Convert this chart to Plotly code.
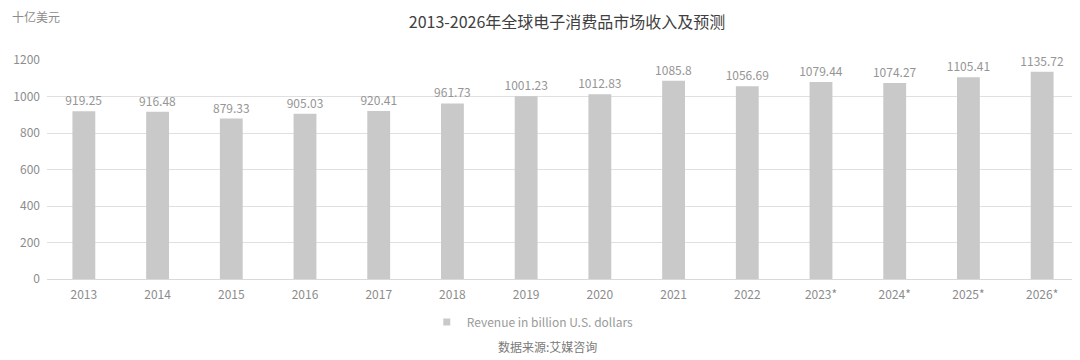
import plotly.graph_objects as go

years = ["2013", "2014", "2015", "2016", "2017", "2018", "2019", "2020",
         "2021", "2022", "2023*", "2024*", "2025*", "2026*"]
revenue = [919.25, 916.48, 879.33, 905.03, 920.41, 961.73, 1001.23, 1012.83,
           1085.8, 1056.69, 1079.44, 1074.27, 1105.41, 1135.72]
labels = ["919.25", "916.48", "879.33", "905.03", "920.41", "961.73", "1001.23",
          "1012.83", "1085.8", "1056.69", "1079.44", "1074.27", "1105.41", "1135.72"]
series_name = "Revenue in billion U.S. dollars"

FONT = "Noto Sans CJK SC, Noto Sans, sans-serif"
BAR = "#c9c9c9"

fig = go.Figure()
fig.add_trace(go.Bar(
    x=years, y=revenue, text=labels, textposition="outside", constraintext="none",
    textfont=dict(size=12, color="#959595", family=FONT),
    marker=dict(color=BAR, line=dict(width=0)),
    name=series_name, cliponaxis=False, showlegend=False,
))
# legend entry with a small square swatch, as in the reference
fig.add_trace(go.Scatter(
    x=[None], y=[None], mode="markers", name=series_name,
    marker=dict(symbol="square", size=7, color=BAR), showlegend=True,
))

# page body has an 8px margin, so the figure is 8px smaller on each axis
fig.update_layout(
    width=1072, height=352,
    margin=dict(l=39, r=1, t=52, b=81, autoexpand=False),
    paper_bgcolor="white", plot_bgcolor="white",
    font=dict(family=FONT, color="#8c8c8c", size=12),
    bargap=0.69,
    title=dict(text="2013-2026年全球电子消费品市场收入及预测", x=0.5215, xanchor="center",
               y=0.960, yanchor="middle",
               font=dict(size=16, color="#404040", family=FONT)),
    showlegend=True,
    legend=dict(orientation="h", x=0.368, xanchor="left", y=-0.196, yanchor="middle",
                font=dict(size=12, color="#9a9a9a", family=FONT),
                itemwidth=30, bgcolor="rgba(0,0,0,0)"),
    xaxis=dict(showgrid=False, showline=False, ticks="", automargin=False,
               tickfont=dict(size=12, color="#8c8c8c"), ticklabelstandoff=7),
    yaxis=dict(range=[0, 1200], dtick=200, showgrid=True, gridcolor="#e0e0e0", gridwidth=1,
               zeroline=True, zerolinecolor="#d9d9d9", zerolinewidth=1, automargin=False,
               ticks="", tickfont=dict(size=12, color="#8c8c8c"), ticklabelstandoff=6),
    annotations=[
        dict(text="十亿美元", x=-0.036, y=1.20, xref="paper", yref="paper",
             xanchor="left", yanchor="middle", showarrow=False,
             font=dict(size=12, color="#8c8c8c", family=FONT)),
        dict(text="数据来源:艾媒咨询", x=0.4845, y=-0.306, xref="paper", yref="paper",
             xanchor="center", yanchor="middle", showarrow=False,
             font=dict(size=12, color="#7a7a7a", family=FONT)),
    ],
)

fig.write_html("out.html")
